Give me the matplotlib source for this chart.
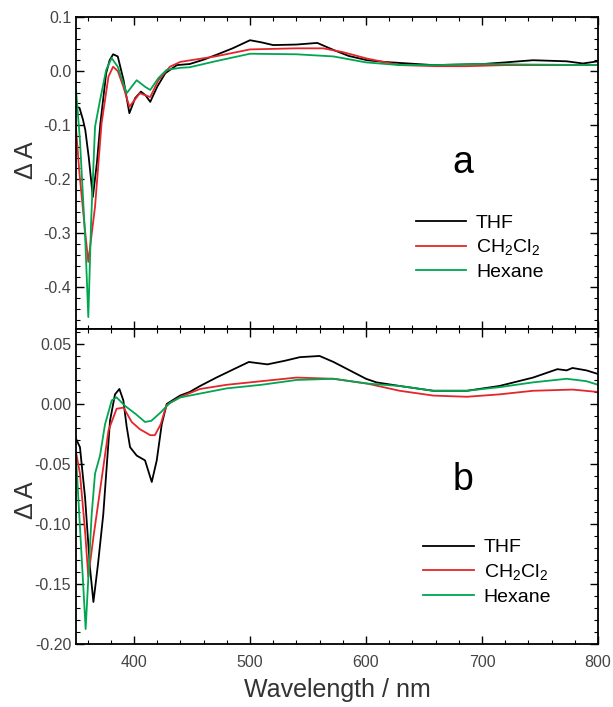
import matplotlib.pyplot as plt
from matplotlib.ticker import MultipleLocator

plt.rcParams['font.family'] = ['Liberation Sans', 'DejaVu Sans']
plt.rcParams['mathtext.default'] = 'regular'

# --- panel a ---
a_thf_x = [350, 353, 356, 358, 361, 364.5, 368, 371, 376, 379, 382, 386, 391, 396, 401, 406, 410, 414, 420, 427, 437,
           448, 460, 471, 485, 500, 510, 520, 540, 558, 572, 585, 601, 615, 629, 658, 680, 701, 720, 744, 773, 787, 800]
a_thf_y = [-0.066, -0.068, -0.09, -0.109, -0.16, -0.233, -0.17, -0.097, -0.004, 0.02, 0.031, 0.027, -0.017, -0.078,
           -0.050, -0.038, -0.045, -0.057, -0.029, -0.004, 0.011, 0.013, 0.021, 0.030, 0.042, 0.057, 0.053, 0.048,
           0.049, 0.052, 0.039, 0.028, 0.020, 0.017, 0.015, 0.011, 0.012, 0.013, 0.016, 0.020, 0.018, 0.014, 0.018]

a_dcm_x = [350, 353, 358, 360.6, 363, 366.4, 372, 378, 382, 386, 391, 396, 400, 405, 410, 414, 421, 431, 440, 470,
           500, 540, 563, 580, 601, 629, 660, 687, 720, 760, 800]
a_dcm_y = [-0.106, -0.19, -0.30, -0.353, -0.31, -0.251, -0.097, -0.010, 0.008, 0.0, -0.03, -0.066, -0.055, -0.041,
           -0.045, -0.048, -0.017, 0.008, 0.017, 0.027, 0.040, 0.042, 0.042, 0.035, 0.023, 0.011, 0.009, 0.009, 0.011,
           0.011, 0.011]

a_hex_x = [350, 353.4, 358, 360.6, 363, 366.4, 370.7, 376, 380.7, 386, 393.7, 402.3, 409.5, 414, 421, 428, 440, 448,
           470, 500, 540, 572, 600, 629, 660, 700, 740, 800]
a_hex_y = [-0.035, -0.128, -0.313, -0.455, -0.28, -0.103, -0.054, 0.002, 0.024, 0.008, -0.041, -0.017, -0.029,
           -0.035, -0.013, 0.002, 0.006, 0.007, 0.018, 0.032, 0.031, 0.027, 0.016, 0.011, 0.011, 0.013, 0.012, 0.011]

# --- panel b ---
b_thf_x = [350, 353.4, 357.8, 362, 365, 369, 373.5, 379.3, 383.6, 387.4, 390.8, 393.7, 396.6, 402.3, 409.5, 415.3,
           419.6, 423.9, 428.2, 439.7, 448, 457, 471, 486, 499, 515, 530, 543, 560, 572, 586, 600, 609, 629, 658, 687,
           715, 744, 765, 773, 778, 790, 800]
b_thf_y = [-0.029, -0.036, -0.078, -0.136, -0.165, -0.133, -0.092, -0.014, 0.008, 0.0125, 0.003, -0.019, -0.036,
           -0.043, -0.047, -0.065, -0.047, -0.017, 0.0, 0.007, 0.010, 0.015, 0.022, 0.029, 0.035, 0.033, 0.036, 0.039,
           0.040, 0.035, 0.028, 0.021, 0.018, 0.015, 0.011, 0.011, 0.015, 0.022, 0.029, 0.028, 0.030, 0.028, 0.025]

b_dcm_x = [350, 353.4, 357.8, 360.6, 365, 370.7, 378, 385, 391, 398, 405, 414, 418, 423, 428, 440, 457, 480, 510,
           540, 572, 601, 629, 658, 687, 715, 744, 778, 800]
b_dcm_y = [-0.040, -0.058, -0.106, -0.144, -0.111, -0.072, -0.022, -0.004, -0.003, -0.015, -0.021, -0.026, -0.026,
           -0.017, -0.001, 0.006, 0.0125, 0.016, 0.019, 0.022, 0.021, 0.017, 0.011, 0.007, 0.006, 0.008, 0.011, 0.012,
           0.010]

b_hex_x = [350, 351, 355, 358.3, 363.5, 366.4, 370.7, 375, 380.8, 385, 392, 401, 409.5, 415, 423, 431, 440, 448,
           480, 510, 540, 572, 601, 629, 658, 687, 715, 744, 773, 790, 800]
b_hex_y = [-0.045, -0.061, -0.13, -0.1875, -0.092, -0.058, -0.043, -0.017, 0.003, 0.0055, -0.0014, -0.008, -0.015,
           -0.014, -0.007, 0.001, 0.0055, 0.007, 0.013, 0.016, 0.020, 0.021, 0.017, 0.015, 0.011, 0.011, 0.014, 0.018,
           0.021, 0.019, 0.016]

labels = ["THF", "CH$_2$Cl$_2$", "Hexane"]
colors = ["black", "#e3262b", "#00a650"]

fig = plt.figure(figsize=(6.13, 7.07), dpi=100)
ax_a = fig.add_axes([0.124, 0.5347, 0.8515, 0.4413])
ax_b = fig.add_axes([0.124, 0.0891, 0.8515, 0.4456], sharex=ax_a)

# кривые для панели a
ax_a.plot(a_thf_x, a_thf_y, color=colors[0], lw=1.3, label=labels[0])
ax_a.plot(a_dcm_x, a_dcm_y, color=colors[1], lw=1.3, label=labels[1])
ax_a.plot(a_hex_x, a_hex_y, color=colors[2], lw=1.3, label=labels[2])

# кривые для панели b
ax_b.plot(b_thf_x, b_thf_y, color=colors[0], lw=1.3, label=labels[0])
ax_b.plot(b_dcm_x, b_dcm_y, color=colors[1], lw=1.3, label=labels[1])
ax_b.plot(b_hex_x, b_hex_y, color=colors[2], lw=1.3, label=labels[2])

ax_a.set_xlim(350, 800)
ax_a.set_ylim(-0.477, 0.1)
ax_b.set_ylim(-0.2, 0.0625)

ax_a.yaxis.set_major_locator(MultipleLocator(0.1))
ax_a.yaxis.set_minor_locator(MultipleLocator(0.02))
ax_a.yaxis.set_major_formatter(plt.FormatStrFormatter('%.1f'))
ax_b.yaxis.set_major_locator(MultipleLocator(0.05))
ax_b.yaxis.set_minor_locator(MultipleLocator(0.01))
ax_b.yaxis.set_major_formatter(plt.FormatStrFormatter('%.2f'))
ax_b.xaxis.set_major_locator(MultipleLocator(100))
ax_b.xaxis.set_minor_locator(MultipleLocator(20))

for ax in (ax_a, ax_b):
    ax.tick_params(which='both', direction='in', top=True, right=True, labelsize=11.5, labelcolor='#444444')
    ax.tick_params(which='major', length=6, width=1)
    ax.tick_params(which='minor', length=3, width=0.8)
    for s in ax.spines.values():
        s.set_linewidth(1.3)
    ax.set_ylabel("Δ A", fontsize=18, color='#333333')
    ax.legend(frameon=False, fontsize=14, handlelength=2.6, handletextpad=0.5, labelspacing=0.3,
              borderpad=0, loc='upper left')
ax_a.tick_params(labelbottom=False)
ax_b.tick_params(axis='x', which='major', pad=8)

ax_a.yaxis.set_label_coords(-0.073, 0.54)
ax_b.yaxis.set_label_coords(-0.073, 0.457)
ax_a.get_legend().set_bbox_to_anchor((0.632, 0.40))
ax_b.get_legend().set_bbox_to_anchor((0.647, 0.365))

ax_a.text(0.741, 0.532, "a", transform=ax_a.transAxes, fontsize=27, ha='center', va='center')
ax_b.text(0.741, 0.52, "b", transform=ax_b.transAxes, fontsize=27, ha='center', va='center')

ax_b.set_xlabel("Wavelength / nm", fontsize=18, color='#333333', labelpad=6)

plt.savefig("out.png", dpi=100)
